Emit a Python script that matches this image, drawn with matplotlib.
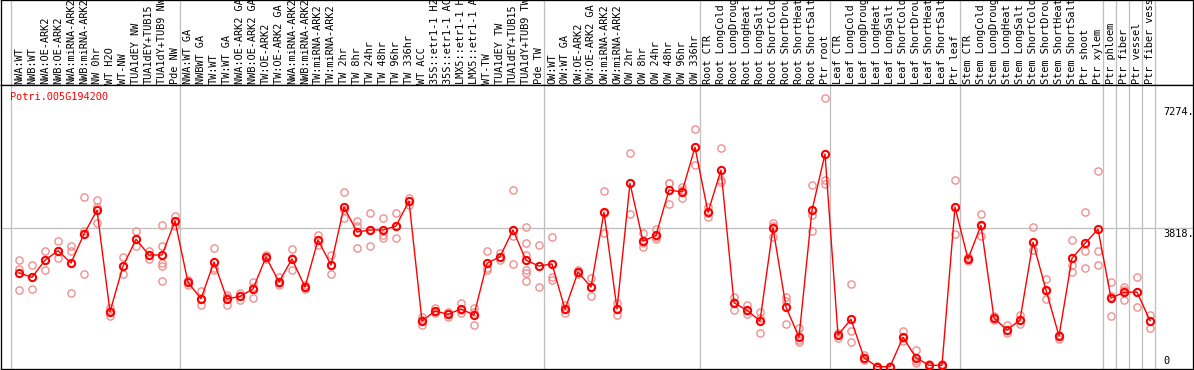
import matplotlib
matplotlib.use("Agg")
import matplotlib.pyplot as plt
from matplotlib.transforms import offset_copy

gene_id = "Potri.005G194200"

categories = [
    "NWA:WT", "NWB:WT", "NWA:OE-ARK2", "NWB:OE-ARK2", "NWA:miRNA-ARK2", "NWB:miRNA-ARK2",
    "NW 0hr", "WT H2O", "WT-NW", "TUA1dEY NW", "TUA1dEY+TUB15", "TUA1dY+TUB9 NW", "Pde NW",
    "NWA:WT GA", "NWBWT GA", "TW:WT", "TW:WT GA", "NWA:OE-ARK2 GA", "NWB:OE-ARK2 GA",
    "TW:OE-ARK2", "TW:OE-ARK2 GA", "NWA:miRNA-ARK2", "NWB:miRNA-ARK2", "TW:miRNA-ARK2",
    "TW:miRNA-ARK2", "TW 2hr", "TW 8hr", "TW 24hr", "TW 48hr", "TW 96hr", "TW 336hr",
    "WT ACC", "35S::etr1-1 H2", "35S::etr1-1 AC", "LMX5::etr1-1 H", "LMX5::etr1-1 A",
    "WT-TW", "TUA1dEY TW", "TUA1dEY+TUB15", "TUA1dY+TUB9 TW", "Pde TW",
    "OW:WT", "OW:WT GA", "OW:OE-ARK2", "OW:OE-ARK2 GA", "OW:miRNA-ARK2", "OW:miRNA-ARK2",
    "OW 2hr", "OW 8hr", "OW 24hr", "OW 48hr", "OW 96hr", "OW 336hr",
    "Root CTR", "Root LongCold", "Root LongDroug", "Root LongHeat", "Root LongSalt",
    "Root ShortCold", "Root ShortDrou", "Root ShortHeat", "Root ShortSalt", "Ptr root",
    "Leaf CTR", "Leaf LongCold", "Leaf LongDroug", "Leaf LongHeat", "Leaf LongSalt",
    "Leaf ShortCold", "Leaf ShortDrou", "Leaf ShortHeat", "Leaf ShortSalt", "Ptr leaf",
    "Stem CTR", "Stem LongCold", "Stem LongDroug", "Stem LongHeat", "Stem LongSalt",
    "Stem ShortCold", "Stem ShortDrou", "Stem ShortHeat", "Stem ShortSalt", "Ptr shoot",
    "Ptr xylem", "Ptr phloem", "Ptr fiber", "Ptr vessel", "Ptr fiber vess",
]

group_sizes = [13, 28, 12, 10, 10, 11, 1, 1, 1, 1]

means = [
    2598, 2481, 2946, 3208, 2872, 3665, 4313, 1540, 2781, 3520,
    3090, 3090, 4020, 2344, 1895, 2899, 1887, 1961, 2160, 3036,
    2352, 2981, 2215, 3500, 2817, 4403, 3719, 3774, 3774, 3883,
    4567, 1285, 1559, 1469, 1614, 1449, 2863, 3044, 3774, 2946,
    2789, 2844, 1605, 2625, 2215, 4258, 1614, 5051, 3465, 3629,
    4868, 4813, 6036, 4258, 5415, 1786, 1578, 1285, 3829, 1668,
    840, 4313, 5852, 902, 1332, 282, 36, 36, 840, 282,
    74, 74, 4403, 2981, 3903, 1367, 1039, 1313, 3438, 2133,
    875, 3000, 3410, 3793, 1914, 2070, 2078, 1294,
]

replicates = [
    [2954, 2707, 2133], [2817, 2489, 2152], [3192, 2954, 2672], [3473, 3208, 3000],
    [3345, 3208, 2051], [4669, 3739, 2563], [4595, 4390, 3955], [1640, 1560, 1422],
    [3028, 2781, 2563], [3739, 3520, 3328], [3200, 3090, 2981],
    [3911, 3337, 2872, 2790, 2379], [4157, 4020, 3884], [2407, 2344, 2270],
    [2106, 1895, 1723], [3282, 2735, 2680], [1996, 1942, 1723], [2051, 1969, 1860],
    [2344, 2215, 1923], [3090, 3036, 2981], [2481, 2325, 2262], [3255, 3008, 2672],
    [2270, 2215, 2161], [3638, 3500, 3356], [3090, 2817, 2563], [4814, 4321, 4102],
    [4020, 3884, 3274], [4239, 3774, 3337], [4102, 3638, 3547], [4239, 3884, 3547],
    [4650, 4567, 4458], [1403, 1313, 1176], [1641, 1559, 1496], [1532, 1469, 1403],
    [1786, 1586, 1496], [1633, 1532, 1168], [3192, 2735, 2680], [3145, 3044, 2954],
    [4868, 3618, 2844], [3856, 3410, 3090, 2680, 2590, 2379], [3364, 2790, 2207],
    [3583, 2497, 2407], [1723, 1614, 1496], [2680, 2625, 2571], [2453, 2215, 1969],
    [4841, 4239, 3684], [1769, 1614, 1441], [5872, 5060, 4204], [3684, 3419, 3318],
    [3793, 3583, 3520], [5051, 5051, 4477], [4958, 4868, 4641], [6528, 6044, 5544],
    [4412, 4239, 4138], [6009, 5142, 5087], [1950, 1805, 1586], [1723, 1559, 1477],
    [1540, 1367, 949], [3974, 3884, 3591], [1950, 1832, 1203], [1086, 766, 719],
    [5005, 4184, 3747], [7376, 5142, 5024], [957, 903, 812], [2297, 1004, 703],
    [356, 274, 219], [55, 27, 27], [55, 27, 27], [1020, 820, 747], [492, 191, 145],
    [109, 55, 55], [109, 55, 55], [5142, 4403, 3673], [3044, 2981, 2918],
    [4204, 3884, 3610], [1422, 1367, 1313], [1176, 1039, 949], [1450, 1313, 1195],
    [3856, 3227, 3227], [2426, 2106, 1879], [902, 875, 793], [3501, 2817, 2634],
    [4267, 3208, 2735], [5388, 3192, 2809], [2352, 1969, 1414], [2215, 2133, 1852],
    [2481, 2079, 1660], [1450, 1294, 1086],
]

ytick_values = [0, 3818, 7274]
ytick_labels = ["0", "3818.", "7274."]
grid_value = 3818

# ---------------- layout ----------------
W, H = 1194, 370
DPI = 100
fig = plt.figure(figsize=(W / DPI, H / DPI), dpi=DPI)
fig.patch.set_facecolor("white")

MONO = "DejaVu Sans Mono"
FS = 7.4
GRID = "#c0c0c0"
LW_PX = 0.72  # one pixel in points

right_px = 1192.5
label_top_px = 85
plot_bottom_px = 369
ax_lab = fig.add_axes([0.5 / W, (H - label_top_px) / H, (right_px - 0.5) / W, label_top_px / H])
ax = fig.add_axes([0.5 / W, (H - plot_bottom_px) / H, (right_px - 0.5) / W,
                   (plot_bottom_px - label_top_px) / H])

n = len(categories)
x = list(range(n))
step = 13.0
x0 = -(19.0 - 0.5) / step
xlim = (x0, x0 + (right_px - 0.5) / step)
for a in (ax, ax_lab):
    a.set_xlim(*xlim)
    a.set_xticks([])
    a.set_yticks([])
    for s in a.spines.values():
        s.set_color("black")
        s.set_linewidth(LW_PX * 1.3)

# y scale: 0 at pixel 368, 7274 at pixel 102
per_px = 7274 / 266.0
ax.set_ylim(-(plot_bottom_px - 368) * per_px, (368 - label_top_px) * per_px)
ax_lab.set_ylim(0, label_top_px)

# group separators
bounds = []
c = 0
for g in group_sizes:
    bounds.append(c - 0.5)
    c += g
bounds.append(c - 0.5)
for b in bounds:
    for a in (ax, ax_lab):
        a.axvline(b - 0.1, color=GRID, lw=LW_PX * 1.3, zorder=0)

ax.axhline(grid_value, color=GRID, lw=LW_PX * 1.3, zorder=0)

# replicates
rx, ry = [], []
for i, reps in enumerate(replicates):
    for v in reps:
        rx.append(i)
        ry.append(v)
ax.plot(rx, ry, linestyle="none", marker="o", markersize=5.2,
        markerfacecolor="none", markeredgecolor="#ef9090", markeredgewidth=1.0, zorder=2)

# means
ax.plot(x, means, color="red", lw=1.0, marker="o", markersize=5.2,
        markerfacecolor="none", markeredgecolor="red", markeredgewidth=1.5, zorder=3)

# category labels
for i, lab in enumerate(categories):
    ax_lab.text(i, 1.5, lab, rotation=90, ha="center", va="bottom",
                fontsize=FS, family=MONO, color="black", clip_on=True)

# gene id
ax.text(0, 1, gene_id, transform=offset_copy(ax.transAxes, fig=fig, x=9.5, y=-7, units="dots"),
        ha="left", va="top", fontsize=FS, family=MONO, color="red")

# value labels on the right
xl = (1163 - 19) / step
offsets = {0: (2, "bottom"), 3818: (-1, "top"), 7274: (-5, "top")}
for v, t in zip(ytick_values, ytick_labels):
    dy, va = offsets[v]
    ax.text(xl, v, t, transform=offset_copy(ax.transData, fig=fig, x=0, y=dy, units="dots"),
            ha="left", va=va, fontsize=FS, family=MONO, color="black", clip_on=True)

fig.savefig("out.png", dpi=DPI, facecolor="white")
